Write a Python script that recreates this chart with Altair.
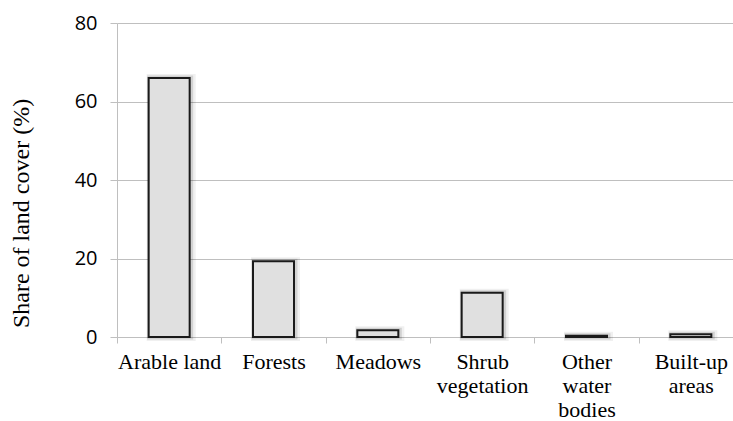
import json

import altair as alt
import pandas as pd

# Land cover categories and their share of total area (%)
categories = ["Arable land", "Forests", "Meadows", "Shrub vegetation",
              "Other water bodies", "Built-up areas"]
shares = [66.0, 19.3, 1.7, 11.3, 0.3, 0.7]

# Wrapped tick labels for the category axis
label_lines = [["Arable land"], ["Forests"], ["Meadows"], ["Shrub", "vegetation"],
               ["Other", "water", "bodies"], ["Built-up", "areas"]]
y_ticks = [0, 20, 40, 60, 80]

df = pd.DataFrame({"cover": categories, "share": shares})

# Map each category onto its multi-line label
label_expr = "[datum.value]"
for cat, lines in reversed(list(zip(categories, label_lines))):
    label_expr = f"datum.value === {json.dumps(cat)} ? {json.dumps(lines)} : ({label_expr})"

GRID = "#bfbfbf"

x_enc = alt.X(
    "cover:N",
    sort=categories,
    scale=alt.Scale(range=[0, 626], paddingInner=0, paddingOuter=0),
    axis=alt.Axis(
        title=None, labelAngle=0, tickBand="extent", labelExpr=label_expr,
        labelFont="Liberation Serif", labelFontSize=22, labelLineHeight=24,
        labelColor="#000", labelBaseline="top", labelPadding=8, labelLimit=300,
        tickColor=GRID, tickSize=6, domainColor=GRID, grid=False,
    ),
)
y_enc = alt.Y(
    "share:Q",
    scale=alt.Scale(domain=[0, 80], nice=False),
    axis=alt.Axis(
        values=y_ticks, title="Share of land cover (%)",
        titleFont="Liberation Serif", titleFontSize=24, titleFontWeight="normal",
        titleColor="#000", titleX=-96, titleY=190, titleAngle=270,
        titleAlign="center", titleBaseline="middle",
        labelFont="Open Sans", labelFontSize=20, labelColor="#000",
        labelPadding=13, tickSize=7, tickColor=GRID,
        gridColor=GRID, gridWidth=1, domainColor=GRID,
    ),
)

base = alt.Chart(df).encode(x=x_enc, y=y_enc)

# Soft drop shadow behind each bar
shadow_outer = base.mark_bar(width=41, fill="transparent", stroke="#000",
                             strokeWidth=8, strokeOpacity=0.06, xOffset=2)
shadow_inner = base.mark_bar(width=41, fill="transparent", stroke="#000",
                             strokeWidth=5, strokeOpacity=0.12, xOffset=1)
bars = base.mark_bar(width=41, fill="#e0e0e0", stroke="#1a1a1a", strokeWidth=2)

chart = (
    alt.layer(shadow_outer, shadow_inner, bars)
    .properties(
        width=616, height=314,
        autosize=alt.AutoSizeParams(type="none"),
        padding={"left": 117, "top": 23, "right": 0, "bottom": 84},
        background="white",
    )
    .configure_view(stroke=None)
)

chart.save("out.html", embed_options={"renderer": "svg", "actions": False})
